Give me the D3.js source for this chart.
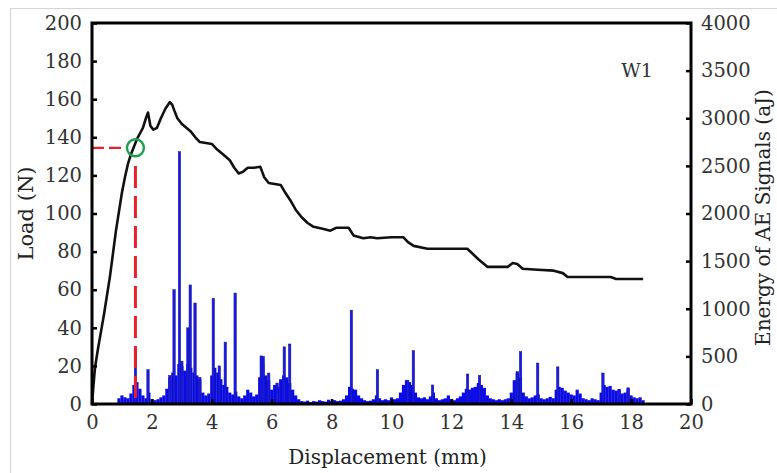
<!DOCTYPE html>
<html><head><meta charset="utf-8">
<script src="https://cdn.jsdelivr.net/npm/d3@7/dist/d3.min.js"></script>
<style>body{margin:0;background:#fff}svg{display:block}</style>
</head><body>
<svg id="c" width="777" height="473"></svg>
<script>
// Load curve (displacement mm, load N)
const loadDisp = [0,0.05,0.1,0.2,0.3,0.4,0.5,0.6,0.7,0.8,0.9,1.0,1.1,1.2,1.3,1.4,1.5,1.6,1.7,1.8,1.87,1.95,2.05,2.17,2.3,2.45,2.6,2.68,2.75,2.85,3.0,3.15,3.3,3.45,3.6,3.8,4.0,4.15,4.3,4.45,4.6,4.75,4.9,5.05,5.2,5.4,5.62,5.75,5.9,6.1,6.3,6.45,6.62,6.8,7.0,7.2,7.4,7.7,7.96,8.15,8.57,8.73,9.06,9.3,9.52,10.0,10.4,10.55,10.74,11.2,12.53,12.7,12.9,13.2,13.88,14.05,14.2,14.38,14.88,15.42,15.72,15.88,17.32,17.5,18.4];
const loadVal  = [0,10,19,29,38,47,57,67,79,91,101,111,119,126,131,135,139,142,145,150,153,146,144,145,150,155,158.5,157,154,150,147,145,143,140,137.5,137,136.5,134,132,130,128,124,121,122,124,124,124.5,119,116,115.5,115,111,107,102,98,95,93,92,91,92.5,92.5,88.5,87,87.5,87,87.5,87.5,85,83,81.5,81.5,79,76,72,72,74,73.5,71,70.5,70,68.7,66.7,66.7,65.6,65.6];

// AE energy: background activity every 0.1 mm from 0.9 mm (aJ)
const aeBgStart = 0.9;
const aeBgEnergy = [60,
 90,70,60,110,200,230,160,90,60,120,
 50,40,50,70,90,160,280,330,300,420,
 400,350,420,380,330,300,260,120,90,110,
 300,380,330,260,200,180,120,100,130,80,
 60,90,150,120,80,100,280,420,300,250,
 150,200,180,260,300,280,220,150,90,50,
 30,25,35,20,30,25,40,30,25,45,
 30,40,30,35,50,90,180,160,150,90,
 60,40,30,35,50,90,60,40,50,40,
 70,50,60,120,200,250,230,200,120,70,
 60,70,50,80,120,60,40,50,60,90,
 50,40,60,80,120,160,150,170,180,220,
 200,170,90,60,50,40,50,40,50,60,
 120,250,330,280,120,80,60,70,90,100,
 60,50,60,75,60,150,180,170,140,120,
 100,90,150,110,60,50,40,60,50,40,
 120,200,180,190,150,140,150,110,120,160,
 90,70,60,70,40];
// AE energy: individual peaks
const aeSpikeDisp   = [1.45,1.87,2.6,2.74,2.92,3.0,3.2,3.28,3.44,3.6,4.05,4.25,4.45,4.78,5.65,5.72,5.9,6.18,6.42,6.6,8.66,9.53,10.54,10.73,11.37,12.54,12.94,14.2,14.31,14.88,15.55,17.06,17.6,17.9];
const aeSpikeEnergy = [570,360,300,1200,2650,450,800,1250,1060,280,1110,400,650,1165,505,500,325,220,600,630,985,360,250,560,200,315,300,340,550,430,390,325,155,170];

const xTicks = [0,2,4,6,8,10,12,14,16,18,20];
const yTicks = [0,20,40,60,80,100,120,140,160,180,200];
const y2Ticks = [0,500,1000,1500,2000,2500,3000,3500,4000];
const marker = {disp:1.45, load:134.5};

const svg = d3.select("#c");
const L=92,R=691,T=23,B=404;
const x = d3.scaleLinear().domain([0,20]).range([L,R]);
const y = d3.scaleLinear().domain([0,200]).range([B,T]);
const y2 = d3.scaleLinear().domain([0,4000]).range([B,T]);
const font = "DejaVu Serif";

// outer light frame
svg.append("rect").attr("x",10.5).attr("y",8.5).attr("width",800).attr("height",500)
  .attr("fill","none").attr("stroke","#d4d4d4").attr("stroke-width",1);

// AE bars
const bg = aeBgEnergy.map((e,i)=>({d: aeBgStart + i*0.1, e}));
svg.append("g").selectAll("rect").data(bg).join("rect")
  .attr("x",d=>x(d.d)-1.6).attr("width",3.2)
  .attr("y",d=>y2(d.e)).attr("height",d=>B-y2(d.e))
  .attr("fill","#0b0be8");
const sp = aeSpikeDisp.map((d,i)=>({d, e:aeSpikeEnergy[i]}));
svg.append("g").selectAll("rect").data(sp).join("rect")
  .attr("x",d=>x(d.d)-1.2).attr("width",2.4)
  .attr("y",d=>y2(d.e)).attr("height",d=>B-y2(d.e))
  .attr("fill","#1a1ae6").attr("stroke","#10109a").attr("stroke-width",0.5);

// load curve
const pts = loadDisp.map((d,i)=>[d,loadVal[i]]);
svg.append("path").datum(pts)
  .attr("d", d3.line().x(d=>x(d[0])).y(d=>y(d[1])))
  .attr("fill","none").attr("stroke","#111").attr("stroke-width",2.6).attr("stroke-linejoin","round");

// red dashed guides
svg.append("line").attr("x1",x(0)).attr("x2",x(marker.disp)-9).attr("y1",y(marker.load)).attr("y2",y(marker.load))
  .attr("stroke","#e8202a").attr("stroke-width",2.2).attr("stroke-dasharray","12,5");
svg.append("line").attr("x1",x(marker.disp)).attr("x2",x(marker.disp)).attr("y1",y(125)).attr("y2",y(0))
  .attr("stroke","#e8202a").attr("stroke-width",3).attr("stroke-dasharray","22,8");
svg.append("circle").attr("cx",x(marker.disp)).attr("cy",y(marker.load)).attr("r",8.5)
  .attr("fill","none").attr("stroke","#1f9e4f").attr("stroke-width",2.5);

// axes
const gL = svg.append("g").attr("transform",`translate(${L},0)`)
  .call(d3.axisLeft(y).tickValues(yTicks).tickSizeInner(-5).tickSizeOuter(0).tickPadding(10));
const gR = svg.append("g").attr("transform",`translate(${R},0)`)
  .call(d3.axisRight(y2).tickValues(y2Ticks).tickFormat(d3.format("d")).tickSizeInner(-5).tickSizeOuter(0).tickPadding(10));
const gB = svg.append("g").attr("transform",`translate(0,${B})`)
  .call(d3.axisBottom(x).tickValues(xTicks).tickSizeInner(-5).tickSizeOuter(0).tickPadding(10));
[gL,gR,gB].forEach(g=>{
  g.select(".domain").remove();
  g.selectAll(".tick line").attr("stroke","#000").attr("stroke-width",2.5);
  g.selectAll(".tick text").attr("font-family",font).attr("font-size",19.5).attr("fill","#333");
});
gB.selectAll(".tick text").attr("dy","0.75em");
// frame
svg.append("rect").attr("x",L).attr("y",T).attr("width",R-L).attr("height",B-T)
  .attr("fill","none").attr("stroke","#000").attr("stroke-width",3);

// titles
svg.append("text").attr("x",(L+R)/2-4).attr("y",464).attr("text-anchor","middle")
  .attr("font-family",font).attr("font-size",20).attr("fill","#222").text("Displacement (mm)");
svg.append("text").attr("transform",`translate(33,${(T+B)/2}) rotate(-90)`).attr("text-anchor","middle")
  .attr("font-family",font).attr("font-size",21).attr("fill","#222").text("Load (N)");
svg.append("text").attr("transform",`translate(770,${(T+B)/2+4}) rotate(-90)`).attr("text-anchor","middle")
  .attr("font-family",font).attr("font-size",20).attr("fill","#222").text("Energy of AE Signals (aJ)");
svg.append("text").attr("x",637).attr("y",77).attr("text-anchor","middle")
  .attr("font-family",font).attr("font-size",19).attr("fill","#333").text("W1");
</script>
</body></html>
